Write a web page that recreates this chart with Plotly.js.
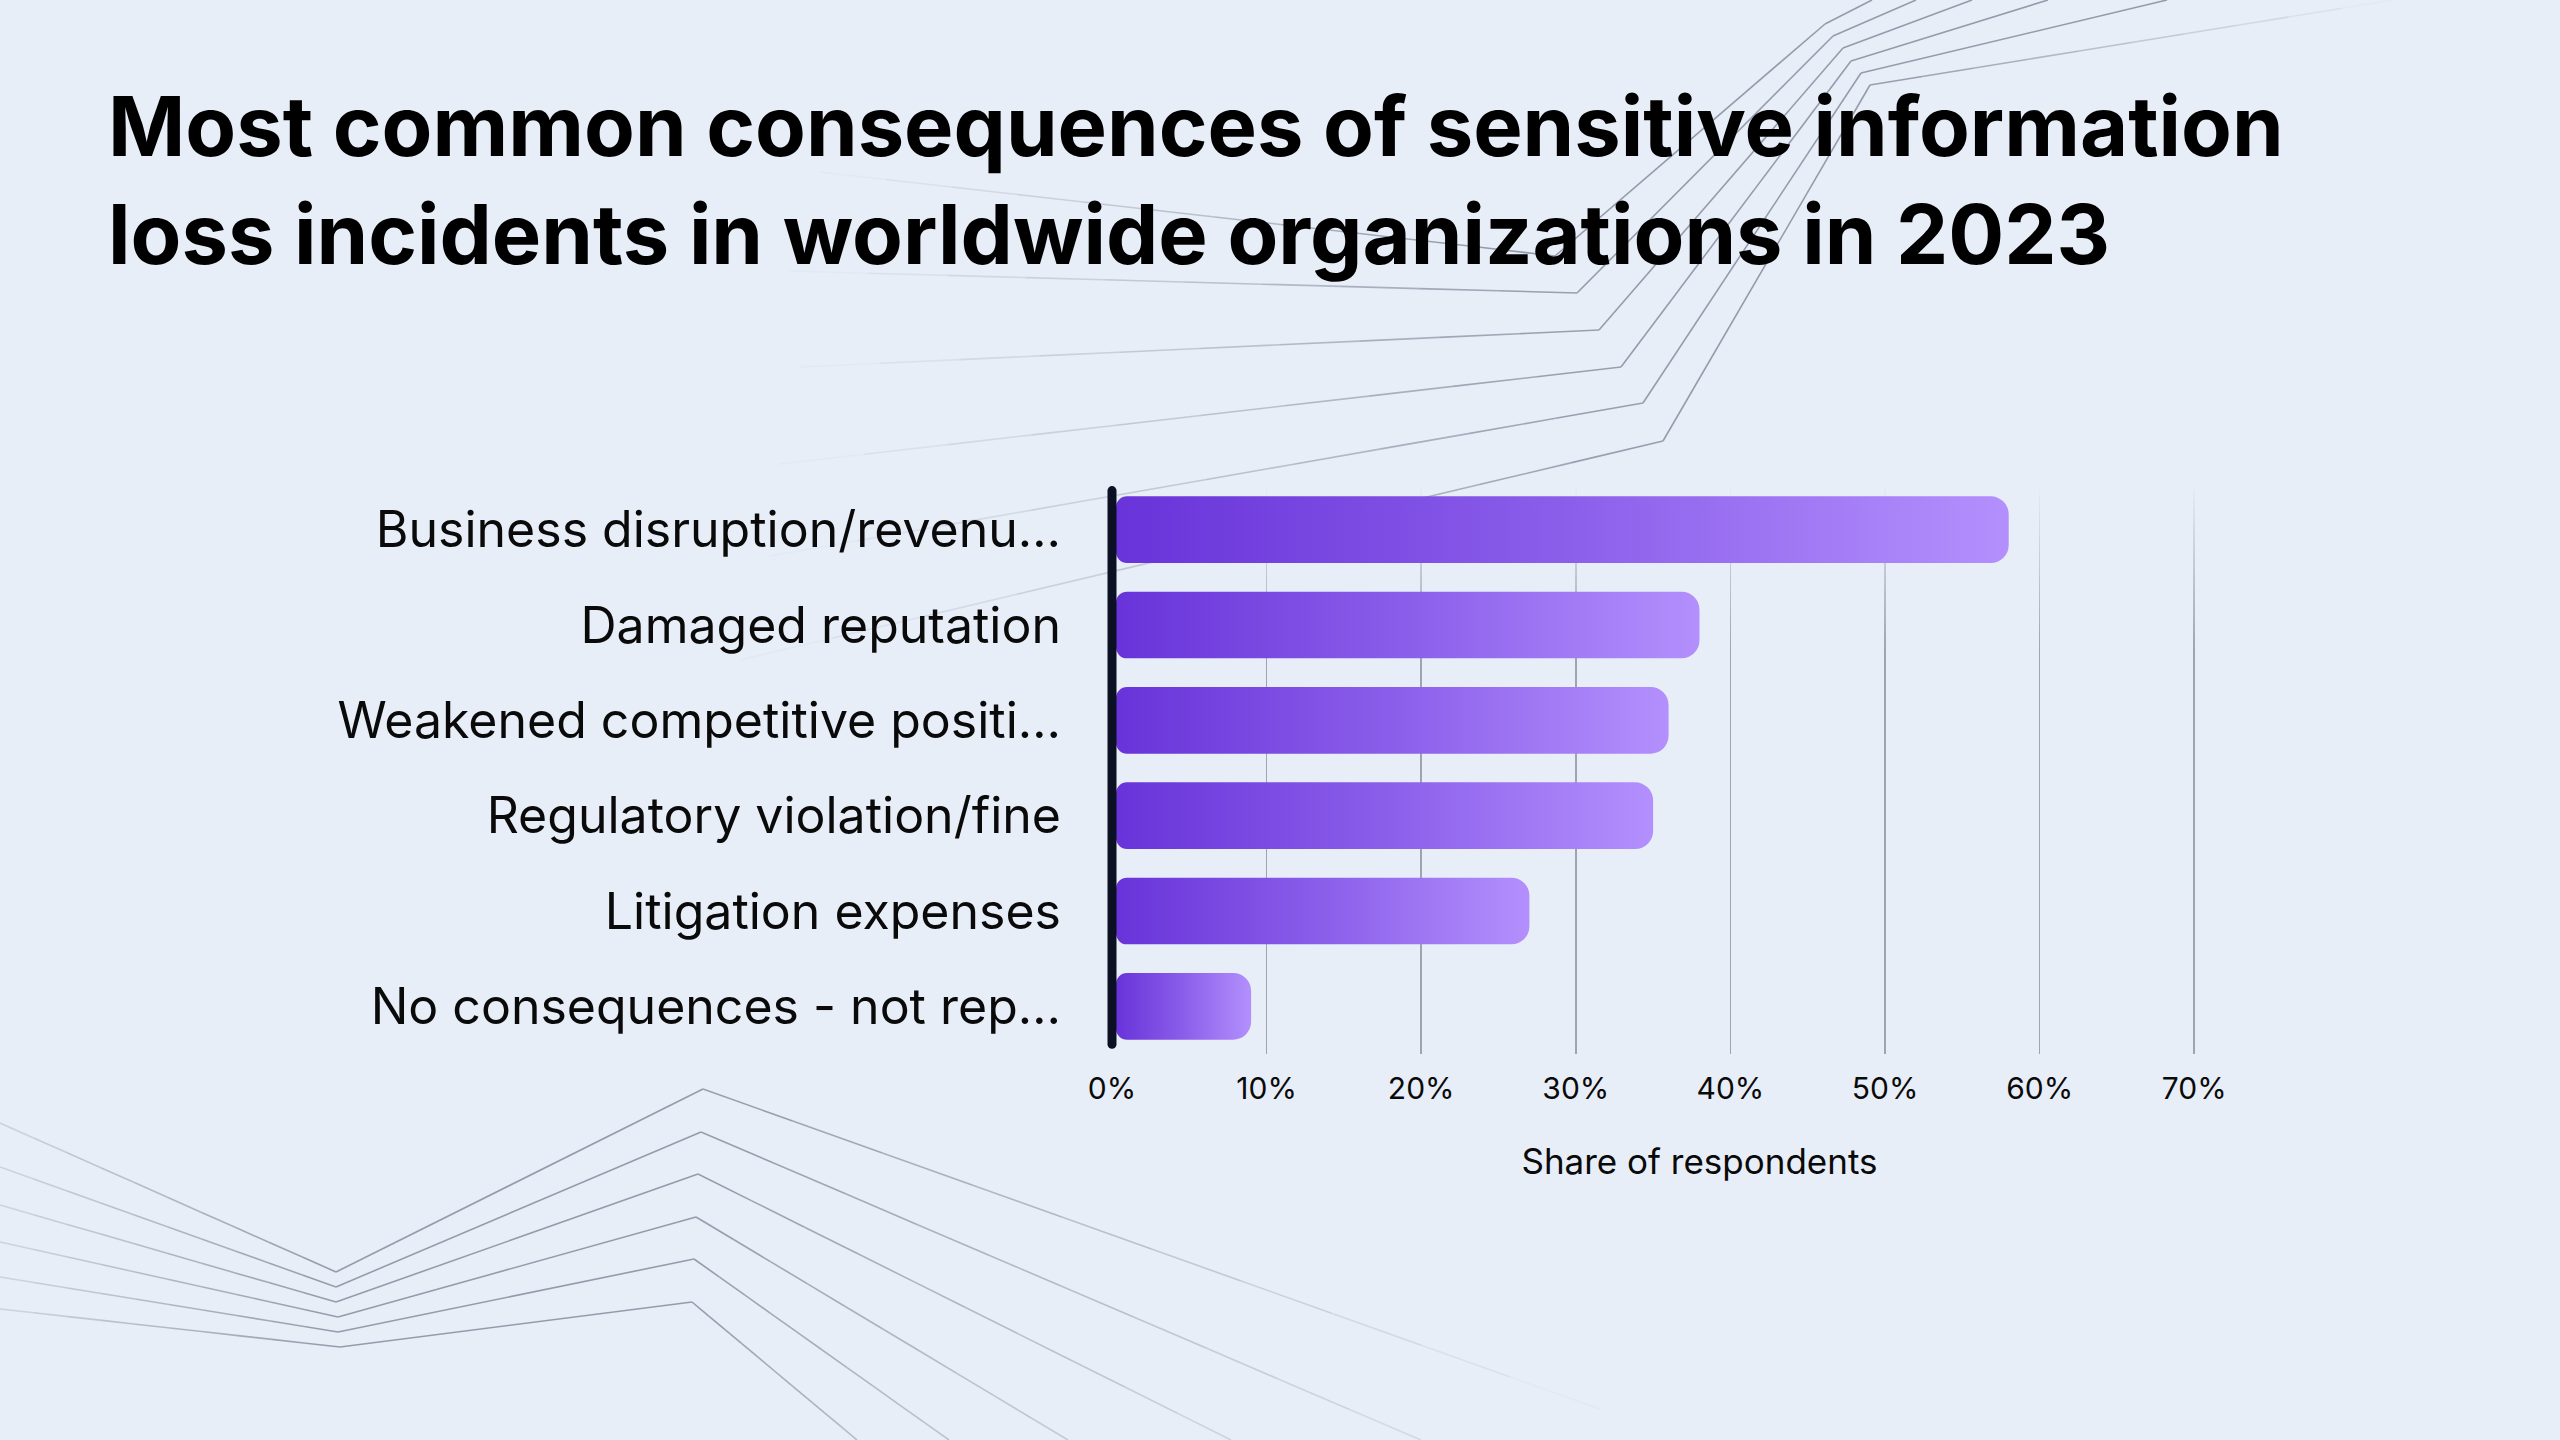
<!DOCTYPE html>
<html>
<head>
<meta charset="utf-8">
<script src="https://cdn.plot.ly/plotly-3.0.1.min.js"></script>
<style>
  html, body { margin: 0; padding: 0; background: #e8eef8; }
  #chart { width: 2560px; height: 1440px; }
</style>
</head>
<body>
<div id="chart"></div>
<script>
// ---------- data ----------
const categories = [
  "Business disruption/revenu…",
  "Damaged reputation",
  "Weakened competitive positi…",
  "Regulatory violation/fine",
  "Litigation expenses",
  "No consequences - not rep…"
];
const shares = [58, 38, 36, 35, 27, 9];
const xTickValues = [0, 10, 20, 30, 40, 50, 60, 70];
const xTickLabels = ["0%", "10%", "20%", "30%", "40%", "50%", "60%", "70%"];
const chartTitle = "Most common consequences of sensitive information<br>loss incidents in worldwide organizations in 2023";
const xAxisTitle = "Share of respondents";

// ---------- layout geometry ----------
const W = 2560, H = 1440;
const ML = 1112, MR = 273, MT = 482, MB = 386;
const PW = W - ML - MR, PH = H - MT - MB;
const FONT = "Inter, 'Open Sans', sans-serif";

// decorative background lines (page pixels)
const decor = [
  {pts: [[820,172],[1478,247],[1555,256],[1825,24],[1872,0]], fin: 0, fout: 1},
  {pts: [[790,271],[1577,293],[1833,36],[1916,0]], fin: 0, fout: 1},
  {pts: [[800,367],[1599,330],[1843,48],[1972,0]], fin: 0, fout: 1},
  {pts: [[780,464],[1621,367],[1851,61],[2048,0]], fin: 0, fout: 1},
  {pts: [[770,556],[1643,403],[1861,73],[2167,0]], fin: 0, fout: 1},
  {pts: [[740,660],[1663,441],[1870,85],[2393,0]], fin: 0, fout: 0},
  {pts: [[0,1123],[336,1272],[703,1089],[1600,1409]], fin: 0.3, fout: 0},
  {pts: [[0,1167],[336,1287],[701,1132],[1421,1440]], fin: 0.3, fout: 0.2},
  {pts: [[0,1205],[336,1302],[698,1174],[1231,1440]], fin: 0.3, fout: 0.3},
  {pts: [[0,1242],[338,1317],[696,1217],[1068,1440]], fin: 0.3, fout: 0.4},
  {pts: [[0,1277],[338,1332],[694,1259],[949,1440]], fin: 0.3, fout: 0.5},
  {pts: [[0,1309],[340,1347],[692,1302],[857,1440]], fin: 0.3, fout: 0.6}
];

function toPaper(p) { return [(p[0] - ML) / PW, (H - MB - p[1]) / PH]; }

const shapes = [];
decor.forEach(d => {
  const n = d.pts.length - 1;
  for (let i = 0; i < n; i++) {
    const a = d.pts[i], b = d.pts[i + 1];
    const first = i === 0, last = i === n - 1;
    const steps = ((first && d.fin < 1) || (last && d.fout < 1)) ? 10 : 1;
    for (let k = 0; k < steps; k++) {
      const t0 = k / steps, t1 = (k + 1) / steps, tm = (k + 0.5) / steps;
      let op = 1;
      if (first && d.fin < 1) op = Math.min(op, d.fin + (1 - d.fin) * tm);
      if (last && d.fout < 1) op = Math.min(op, 1 - (1 - d.fout) * tm);
      const p0 = toPaper([a[0] + (b[0] - a[0]) * t0, a[1] + (b[1] - a[1]) * t0]);
      const p1 = toPaper([a[0] + (b[0] - a[0]) * t1, a[1] + (b[1] - a[1]) * t1]);
      shapes.push({
        type: "line", xref: "paper", yref: "paper",
        x0: p0[0], y0: p0[1], x1: p1[0], y1: p1[1],
        line: {color: "rgb(150,155,172)", width: 1.6},
        opacity: op, layer: "below"
      });
    }
  }
});

// dark baseline along the 0% edge of the plot (paper x = 0, unclipped)
shapes.push({
  type: "line", xref: "paper", yref: "paper",
  x0: 0, x1: 0, y0: 0.017, y1: 0.985,
  line: {color: "#0b1022", width: 9}, layer: "above"
});

const data = [{
  type: "bar",
  orientation: "h",
  y: categories,
  x: shares,
  marker: {color: "#8f63ec", line: {width: 0}},
  hoverinfo: "skip"
}];

const layout = {
  width: W, height: H,
  paper_bgcolor: "#e8eef8",
  plot_bgcolor: "rgba(0,0,0,0)",
  margin: {l: ML, r: MR, t: MT, b: MB, pad: 0},
  font: {family: FONT, color: "#0a0a0a"},
  showlegend: false,
  bargap: 0.3,
  barcornerradius: 16,
  title: {
    text: chartTitle,
    x: 108 / W, xref: "container", xanchor: "left",
    y: 1 - 156 / H, yref: "container", yanchor: "top",
    font: {family: FONT, size: 83, weight: 700, color: "#000000"}
  },
  xaxis: {
    range: [0, 76],
    tickmode: "array",
    tickvals: xTickValues,
    ticktext: xTickLabels,
    showgrid: true,
    gridcolor: "rgb(140,145,160)",
    gridwidth: 1.5,
    zeroline: false,
    showline: false,
    ticks: "",
    ticklabelstandoff: 14,
    tickfont: {family: FONT, size: 30, color: "#0a0a0a"},
    title: {text: xAxisTitle, standoff: 44, font: {family: FONT, size: 35, color: "#0a0a0a"}},
    fixedrange: true
  },
  yaxis: {
    type: "category",
    range: [5.5, -0.5],
    showgrid: false,
    zeroline: false,
    showline: false,
    ticks: "",
    ticklabelstandoff: 50,
    tickfont: {family: FONT, size: 50, color: "#0a0a0a"},
    fixedrange: true
  },
  shapes: shapes
};

Plotly.newPlot("chart", data, layout, {staticPlot: true, displayModeBar: false}).then(gd => {
  const ns = "http://www.w3.org/2000/svg";
  const svg = gd.querySelector(".main-svg");
  let defs = svg.querySelector("defs");
  if (!defs) { defs = document.createElementNS(ns, "defs"); svg.insertBefore(defs, svg.firstChild); }

  function grad(id, attrs, stops) {
    const lg = document.createElementNS(ns, "linearGradient");
    lg.setAttribute("id", id);
    Object.keys(attrs).forEach(k => lg.setAttribute(k, attrs[k]));
    stops.forEach(s => {
      const st = document.createElementNS(ns, "stop");
      st.setAttribute("offset", s[0]);
      st.setAttribute("stop-color", s[1]);
      st.setAttribute("stop-opacity", s[2]);
      lg.appendChild(st);
    });
    defs.appendChild(lg);
  }
  grad("barGrad", {x1: "0", y1: "0", x2: "1", y2: "0"},
       [["0", "#6833d9", 1], ["0.5", "#8b5eea", 1], ["1", "#b390fd", 1]]);
  grad("gridGrad", {gradientUnits: "userSpaceOnUse", x1: "0", y1: String(MT), x2: "0", y2: String(MT + 170)},
       [["0", "rgb(140,145,160)", 0], ["1", "rgb(140,145,160)", 0.8]]);

  gd.querySelectorAll(".barlayer .point path").forEach(p => {
    const bb = p.getBBox();
    const x = bb.x + 4, y = bb.y, w = bb.width - 4, h = bb.height;
    const rl = 11, rr = Math.min(18, h / 2, w / 2);
    const d = `M${x + rl},${y} H${x + w - rr} A${rr},${rr} 0 0 1 ${x + w},${y + rr} V${y + h - rr} A${rr},${rr} 0 0 1 ${x + w - rr},${y + h} H${x + rl} A${rl},${rl} 0 0 1 ${x},${y + h - rl} V${y + rl} A${rl},${rl} 0 0 1 ${x + rl},${y} Z`;
    p.setAttribute("d", d);
    p.style.fill = "url(#barGrad)";
    p.style.fillOpacity = "1";
  });

  gd.querySelectorAll(".gridlayer path").forEach(p => {
    p.style.stroke = "url(#gridGrad)";
    p.style.strokeOpacity = "1";
  });

  gd.querySelectorAll(".shapelayer path").forEach(p => {
    if (parseFloat(p.style.strokeWidth) === 9) p.style.strokeLinecap = "round";
  });
});
</script>
</body>
</html>
